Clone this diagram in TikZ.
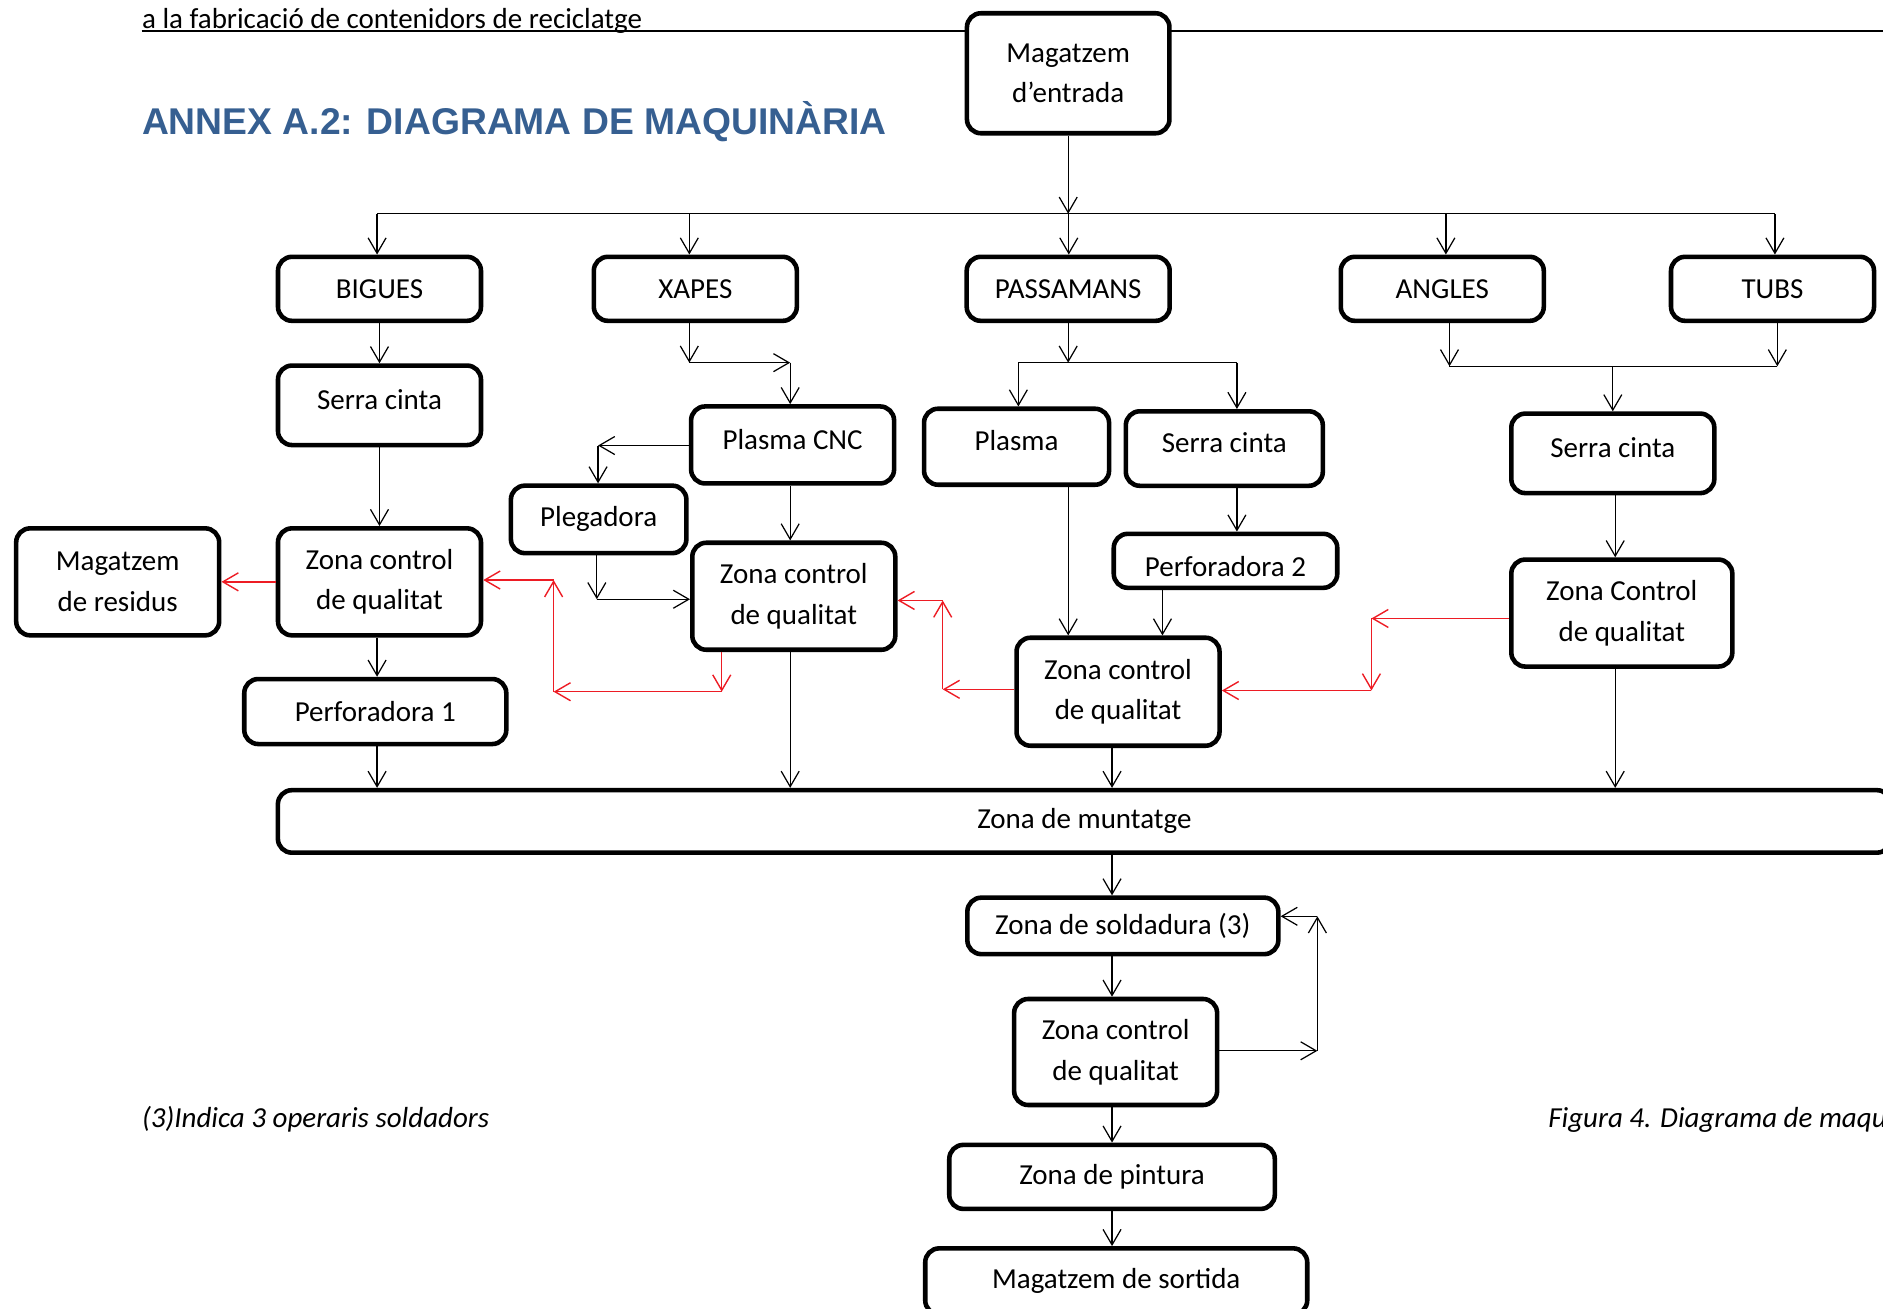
\documentclass[tikz,border=0pt]{standalone}
\usepackage{fontspec}
\setmainfont{Carlito}
\newfontfamily\titolfont{Liberation Sans}
\usetikzlibrary{arrows.meta}
\definecolor{titol}{RGB}{54,95,145}
\definecolor{vermell}{RGB}{237,28,36}
\newcommand\caixafont{\fontsize{16.5}{23.2}\selectfont}

\begin{document}
\begin{tikzpicture}[x=0.024018cm,y=-0.024018cm,
    >={Straight Barb[length=0.31cm,width=0.36cm]},
    caixa/.style={draw,line width=2.6pt,rounded corners=0.28cm,fill=white,align=center,font=\caixafont,inner sep=0pt},
    fila/.style={minimum width=4.06cm,minimum height=1.28cm},
    zona/.style={minimum width=4.06cm,minimum height=2.14cm},
    fletxa/.style={->,line width=0.7pt},
    retorn/.style={->,line width=0.8pt,draw=vermell}]
    \useasboundingbox (0,0) rectangle (1568,1090);
    \clip (0,0) rectangle (1568,1090);
    % capcalera
    \node[anchor=base west,inner sep=0pt,font=\caixafont] (h1) at (118,23.4) {a la fabricació de contenidors de reciclatge};
    \coordinate (e1) at (1568,25.9);
    \draw[line width=1.3pt] (e1 -| h1.west) -- (e1);
    \node[anchor=base west,inner sep=0pt,text=titol,font=\titolfont\bfseries\fontsize{21.2}{25}\selectfont] (h2) at (118,112) {ANNEX A.2: DIAGRAMA DE MAQUINÀRIA};
    % caixes
    \node[caixa,minimum width=4.05cm,minimum height=2.40cm] (11) at (889.5,61) {Magatzem\\d’entrada};
    \foreach \n/\x/\t in {21/316/BIGUES,22/579/XAPES,23/889.5/PASSAMANS,24/1201/ANGLES,25/1476/TUBS}
        \node[caixa,fila] (\n) at (\x,240.5) {\t};
    \node[caixa,minimum width=4.06cm,minimum height=1.59cm,text depth=0.24cm] (31) at (316,337.5) {Serra cinta};
    \node[caixa,minimum width=4.06cm,minimum height=1.54cm,text depth=0.24cm] (32) at (660,370.5) {Plasma CNC};
    \node[caixa,minimum width=3.70cm,minimum height=1.52cm,text depth=0.24cm] (33) at (846.5,372) {Plasma};
    \node[caixa,minimum width=3.94cm,minimum height=1.49cm,text depth=0.24cm] (34) at (1019.5,373.5) {Serra cinta};
    \node[caixa,minimum width=4.06cm,minimum height=1.59cm,text depth=0.24cm] (35) at (1343,377.5) {Serra cinta};
    \node[caixa,minimum width=3.51cm,minimum height=1.35cm] (41) at (498.5,432.5) {Plegadora};
    \node[caixa,zona] (42) at (316,484.5) {Zona control\\de qualitat};
    \node[caixa,zona] (43) at (98,484.5) {Magatzem\\de residus};
    \node[caixa,zona] (44) at (661,496.5) {Zona control\\de qualitat};
    \node[caixa,minimum width=4.47cm,minimum height=1.08cm,text height=0.64cm] (45) at (1020.5,467) {Perforadora 2};
    \node[caixa,zona,minimum width=4.42cm] (46) at (1350.5,510.5) {Zona Control\\de qualitat};
    \node[caixa,minimum width=5.24cm,minimum height=1.30cm] (51) at (312.5,592.5) {Perforadora 1};
    \node[caixa,zona,minimum height=2.16cm] (52) at (931,576) {Zona control\\de qualitat};
    \node[caixa,minimum width=32.26cm,minimum height=1.25cm] (61) at (903,684) {Zona de muntatge};
    \node[caixa,minimum width=6.22cm,minimum height=1.13cm] (71) at (935,771) {Zona de soldadura (3)};
    \node[caixa,zona,minimum height=2.12cm] (72) at (929,876) {Zona control\\de qualitat};
    \node[caixa,minimum width=6.51cm,minimum height=1.28cm] (73) at (926,980) {Zona de pintura};
    \node[caixa,minimum width=7.64cm,minimum height=1.32cm] (74) at (929.5,1067) {Magatzem de sortida};
    % notes
    \node[anchor=base west,inner sep=0pt,font=\caixafont\itshape] (n1) at (118,939) {(3)Indica 3 operaris soldadors};
    \node[anchor=base west,inner sep=0pt,font=\caixafont\itshape] (n2) at (1289,939) {Figura 4. Diagrama de maquinària};
    % entrada -> materials
    \coordinate (b0) at (889.5,178);
    \coordinate (b1) at (314,178);
    \coordinate (b5) at (1478,178);
    \draw[fletxa] (11) -- (b0);
    \draw[line width=0.7pt] (b1) -- (b5);
    \foreach \n/\x in {21/314,22/574,23/890,24/1204,25/1478}{
        \coordinate (t\n) at (\x,178);
        \draw[fletxa] (t\n) -- (t\n |- \n.north);
    }
    % BIGUES
    \draw[fletxa] (21) -- (31);
    \draw[fletxa] (31) -- (42);
    \draw[fletxa] (42.south -| t21) -- (51.north -| t21);
    \draw[fletxa] (51.south -| t21) -- (61.north -| t21);
    \draw[retorn] (42) -- (43);
    % XAPES
    \coordinate (x1) at (574,302);
    \coordinate (x2) at (658,302);
    \coordinate (x3) at (498,371);
    \coordinate (x4) at (497,499);
    \draw[fletxa] (22.south -| x1) -- (x1);
    \draw[fletxa] (x1) -- (x2);
    \draw[fletxa] (x2) -- (x2 |- 32.north);
    \draw[fletxa] (32.west |- x3) -- (x3);
    \draw[fletxa] (x3) -- (x3 |- 41.north);
    \draw[fletxa] (32.south -| x2) -- (44.north -| x2);
    \draw[fletxa] (41.south -| x4) -- (x4);
    \draw[fletxa] (x4) -- (x4 -| 44.west);
    \draw[fletxa] (44.south -| x2) -- (61.north -| x2);
    % PASSAMANS
    \coordinate (p0) at (889.5,302);
    \coordinate (p1) at (848,302);
    \coordinate (p2) at (1030,302);
    \coordinate (p3) at (968,500);
    \draw[fletxa] (23) -- (p0);
    \draw[line width=0.7pt] (p1) -- (p2);
    \draw[fletxa] (p1) -- (p1 |- 33.north);
    \draw[fletxa] (p2) -- (p2 |- 34.north);
    \draw[fletxa] (33.south -| p0) -- (52.north -| p0);
    \draw[fletxa] (34.south -| p2) -- (45.north -| p2);
    \draw[fletxa] (45.south -| p3) -- (52.north -| p3);
    \draw[fletxa] (52.south -| 73) -- (61.north -| 73);
    % ANGLES i TUBS
    \coordinate (a1) at (1207,305);
    \coordinate (a2) at (1480,305);
    \coordinate (a3) at (1345,500);
    \draw[fletxa] (24.south -| a1) -- (a1);
    \draw[fletxa] (25.south -| a2) -- (a2);
    \draw[line width=0.7pt] (a1) -- (a2);
    \draw[fletxa] (a1 -| 35) -- (35);
    \draw[fletxa] (35.south -| a3) -- (46.north -| a3);
    \draw[fletxa] (46.south -| a3) -- (61.north -| a3);
    % retorns
    \coordinate (r1) at (601,576);
    \coordinate (r2) at (461,576);
    \coordinate (r3) at (461,483);
    \coordinate (r4) at (785,574);
    \coordinate (r5) at (785,500);
    \coordinate (r6) at (1142,515);
    \coordinate (r7) at (1142,575);
    \draw[retorn] (44.south -| r1) -- (r1);
    \draw[retorn] (r1) -- (r2);
    \draw[retorn] (r2) -- (r3);
    \draw[retorn] (r3) -- (r3 -| 42.east);
    \draw[retorn] (52.west |- r4) -- (r4);
    \draw[retorn] (r4) -- (r5);
    \draw[retorn] (r5) -- (r5 -| 44.east);
    \draw[retorn] (46.west |- r6) -- (r6);
    \draw[retorn] (r6) -- (r7);
    \draw[retorn] (r7) -- (r7 -| 52.east);
    % muntatge -> sortida
    \coordinate (s1) at (1097,875);
    \coordinate (s2) at (1097,763);
    \draw[fletxa] (61.south -| 73) -- (71.north -| 73);
    \draw[fletxa] (71.south -| 73) -- (72.north -| 73);
    \draw[fletxa] (72.south -| 73) -- (73);
    \draw[fletxa] (73) -- (74.north -| 73);
    \draw[fletxa] (72.east |- s1) -- (s1);
    \draw[fletxa] (s1) -- (s2);
    \draw[fletxa] (s2) -- (s2 -| 71.east);
\end{tikzpicture}
\end{document}
